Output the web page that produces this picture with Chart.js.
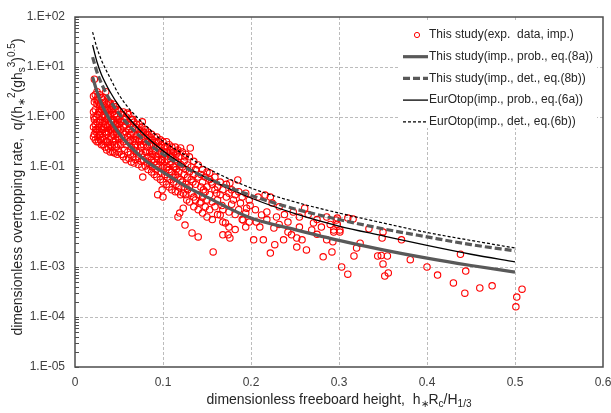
<!DOCTYPE html>
<html>
<head>
<meta charset="utf-8">
<script src="https://cdn.jsdelivr.net/npm/chart.js@4/dist/chart.umd.min.js"></script>
<style>
  html, body { margin: 0; padding: 0; background: #fff; }
  #wrap { width: 611px; height: 413px; }
</style>
</head>
<body>
<div id="wrap"><canvas id="chart" width="611" height="413"></canvas></div>
<script>
/* ===== Overtopping rate vs freeboard ===== */

// axis ticks
const xTickValues = [0, 0.1, 0.2, 0.3, 0.4, 0.5, 0.6];
const xTickLabels = ['0', '0.1', '0.2', '0.3', '0.4', '0.5', '0.6'];
const yDecades = [1e-5, 1e-4, 1e-3, 1e-2, 1e-1, 1e0, 1e1, 1e2];
const yTickLabels = ['1.E-05', '1.E-04', '1.E-03', '1.E-02', '1.E-01', '1.E+00', '1.E+01', '1.E+02'];

// legend entries
const legendLabels = [
  'This study(exp.  data, imp.)',
  'This study(imp., prob., eq.(8a))',
  'This study(imp., det., eq.(8b))',
  'EurOtop(imp., prob., eq.(6a))',
  'EurOtop(imp., det., eq.(6b))'
];

// axis titles: [text, 0 normal / 1 superscript / -1 subscript]
const yTitleParts = [['dimensionless overtopping rate,  q/(h', 0], ['\u2217', -1], ['2', 1], ['(gh', 0], ['s', -1], ['3', 1], [')', 0], ['0.5', 1], [')', 0]];
const xTitleParts = [['dimensionless freeboard height,  h', 0], ['\u2217', -1], ['R', 0], ['c', -1], ['/H', 0], ['1/3', -1]];

// formula curves
const lineX    = [0.02, 0.025, 0.03, 0.04, 0.05, 0.06, 0.08, 0.1, 0.125, 0.15, 0.2, 0.25, 0.3, 0.35, 0.4, 0.45, 0.5];
const eq8aProb = [6.3, 3.2, 1.86, 0.85, 0.47, 0.29, 0.135, 0.079, 0.042, 0.025, 0.0095, 0.0056, 0.0034, 0.0022, 0.0015, 0.00107, 0.00079];
const eq8bDet  = [15.8, 7.9, 4.7, 2.14, 1.17, 0.72, 0.33, 0.18, 0.098, 0.06, 0.027, 0.0145, 0.0089, 0.0058, 0.004, 0.0028, 0.0021];
const eq6aProb = [27.5, 12.6, 7.1, 3.16, 1.66, 1.0, 0.42, 0.21, 0.105, 0.06, 0.024, 0.0117, 0.0066, 0.0042, 0.0027, 0.0018, 0.00126];
const eq6bDet  = [50, 24, 13.8, 6.0, 2.8, 1.58, 0.68, 0.33, 0.174, 0.095, 0.038, 0.02, 0.012, 0.0076, 0.0049, 0.0034, 0.0024];

// experimental data [x, y]
const expPoints = [
  [0.021,2.6],[0.021,1.26],[0.021,0.63],[0.021,0.4],[0.0215,1.0],
  [0.022,5.7],[0.022,2.0],[0.022,0.89],[0.022,0.45],
  [0.023,2.8],[0.023,1.4],[0.023,0.71],[0.023,0.35],[0.0235,0.56],
  [0.024,2.2],[0.024,1.0],[0.024,0.5],
  [0.025,3.2],[0.025,1.8],[0.025,0.79],[0.025,0.56],[0.025,0.32],[0.0255,2.2],
  [0.026,2.5],[0.026,1.12],[0.026,0.4],
  [0.027,2.0],[0.027,1.26],[0.027,0.63],[0.027,0.32],[0.0275,0.5],
  [0.028,2.8],[0.028,1.6],[0.028,0.79],[0.028,0.45],
  [0.029,1.8],[0.029,0.89],[0.029,0.35],[0.0295,1.26],
  [0.030,2.4],[0.030,1.4],[0.030,0.56],[0.030,0.28],
  [0.031,1.6],[0.031,0.79],[0.031,0.4],[0.0315,2.5],
  [0.032,2.2],[0.032,1.12],[0.032,0.56],[0.032,0.28],
  [0.033,1.4],[0.033,0.63],[0.033,0.35],[0.0335,0.8],
  [0.034,2.0],[0.034,1.0],[0.034,0.5],[0.034,0.25],
  [0.035,3.2],[0.035,1.26],[0.035,0.71],[0.035,0.32],[0.0355,0.5],
  [0.036,1.8],[0.036,0.89],[0.036,0.45],[0.036,0.22],
  [0.037,1.4],[0.037,0.63],[0.037,0.32],[0.0375,1.1],
  [0.038,2.0],[0.038,1.0],[0.038,0.5],[0.038,0.24],
  [0.039,1.26],[0.039,0.71],[0.039,0.35],[0.0395,1.8],
  [0.040,1.9],[0.040,1.12],[0.040,0.56],[0.040,0.28],[0.040,0.2],
  [0.041,1.4],[0.041,0.79],[0.041,0.4],[0.0415,0.6],
  [0.042,1.6],[0.042,0.89],[0.042,0.5],[0.042,0.25],
  [0.043,1.26],[0.043,0.63],[0.043,0.32],[0.043,0.2],[0.0435,0.9],
  [0.044,1.8],[0.044,0.79],[0.044,0.45],
  [0.045,1.12],[0.045,0.56],[0.045,0.28],[0.045,0.19],[0.0455,1.4],
  [0.046,1.6],[0.046,0.71],[0.046,0.35],
  [0.047,1.0],[0.047,0.5],[0.047,0.25],[0.0475,0.7],
  [0.048,1.4],[0.048,0.79],[0.048,0.4],[0.048,0.18],
  [0.049,0.89],[0.049,0.56],[0.049,0.28],[0.0495,0.4],
  [0.050,1.32],[0.050,0.71],[0.050,0.35],[0.050,0.2],
  [0.0515,0.8],[0.052,1.12],[0.052,0.56],[0.052,0.28],
  [0.053,0.79],[0.053,0.4],[0.053,0.18],[0.0545,0.5],
  [0.055,1.26],[0.055,0.63],[0.055,0.32],[0.055,0.16],
  [0.056,0.89],[0.056,0.45],[0.056,0.22],[0.0575,0.7],
  [0.058,1.0],[0.058,0.5],[0.058,0.28],[0.058,0.14],[0.0595,1.2],
  [0.060,0.79],[0.060,0.4],[0.060,0.2],
  [0.061,1.12],[0.061,0.56],[0.061,0.32],[0.061,0.15],[0.0625,0.45],
  [0.063,0.71],[0.063,0.35],[0.063,0.18],
  [0.064,0.89],[0.064,0.5],[0.064,0.25],[0.064,0.126],[0.0655,0.9],
  [0.066,0.63],[0.066,0.32],[0.066,0.16],
  [0.067,0.79],[0.067,0.45],[0.067,0.22],[0.067,0.12],[0.0685,0.35],
  [0.069,0.63],[0.069,0.28],[0.069,0.14],
  [0.070,0.71],[0.070,0.4],[0.070,0.2],[0.0715,0.45],
  [0.072,0.56],[0.072,0.32],[0.072,0.16],[0.072,0.112],
  [0.073,0.71],[0.073,0.35],[0.073,0.2],[0.0745,0.28],
  [0.075,0.5],[0.075,0.25],[0.075,0.13],
  [0.076,0.63],[0.076,0.35],[0.076,0.18],[0.076,0.1],[0.0765,0.8],
  [0.077,0.063],
  [0.078,0.5],[0.078,0.28],[0.078,0.14],[0.0795,0.4],
  [0.080,0.56],[0.080,0.32],[0.080,0.2],[0.080,0.105],[0.0815,0.2],
  [0.082,0.45],[0.082,0.25],[0.082,0.126],
  [0.083,0.5],[0.083,0.32],[0.083,0.16],[0.083,0.089],[0.0845,0.28],
  [0.085,0.4],[0.085,0.2],[0.085,0.112],[0.0865,0.16],
  [0.087,0.45],[0.087,0.28],[0.087,0.14],[0.087,0.079],
  [0.088,0.35],[0.088,0.18],[0.088,0.1],[0.0895,0.28],
  [0.090,0.4],[0.090,0.22],[0.090,0.126],[0.090,0.071],[0.0915,0.2],
  [0.092,0.32],[0.092,0.16],[0.092,0.089],
  [0.093,0.4],[0.093,0.25],[0.093,0.112],[0.093,0.063],
  [0.094,0.028],[0.0945,0.14],
  [0.095,0.32],[0.095,0.18],[0.095,0.1],[0.0965,0.25],
  [0.097,0.35],[0.097,0.2],[0.097,0.126],[0.097,0.056],
  [0.098,0.28],[0.098,0.14],[0.098,0.079],
  [0.099,0.035],[0.0995,0.14],
  [0.100,0.32],[0.100,0.18],[0.100,0.1],[0.100,0.05],[0.100,0.025],[0.1015,0.2],
  [0.102,0.25],[0.102,0.126],[0.102,0.071],
  [0.104,0.32],[0.104,0.2],[0.104,0.1],[0.104,0.045],
  [0.105,0.25],[0.105,0.14],[0.105,0.063],[0.1055,0.1],
  [0.107,0.28],[0.107,0.18],[0.107,0.089],[0.107,0.04],
  [0.108,0.22],[0.108,0.112],[0.108,0.056],[0.1085,0.16],
  [0.110,0.25],[0.110,0.16],[0.110,0.079],[0.110,0.035],[0.1115,0.063],
  [0.112,0.2],[0.112,0.1],[0.112,0.05],[0.1135,0.1],
  [0.114,0.25],[0.114,0.14],[0.114,0.071],[0.114,0.032],
  [0.115,0.18],[0.115,0.089],[0.115,0.045],[0.1165,0.2],
  [0.117,0.22],[0.117,0.126],[0.117,0.063],[0.117,0.032],[0.117,0.01],
  [0.118,0.16],[0.118,0.079],[0.118,0.04],
  [0.119,0.012],
  [0.120,0.24],[0.120,0.112],[0.120,0.056],[0.120,0.028],
  [0.122,0.2],[0.122,0.1],[0.122,0.05],
  [0.123,0.030],[0.123,0.015],
  [0.124,0.13],[0.124,0.071],[0.124,0.04],
  [0.125,0.16],[0.125,0.0069],
  [0.126,0.18],[0.126,0.089],[0.126,0.045],[0.126,0.028],
  [0.127,0.022],
  [0.128,0.11],[0.128,0.063],[0.128,0.035],
  [0.130,0.16],[0.130,0.079],[0.130,0.04],[0.130,0.02],
  [0.131,0.24],
  [0.132,0.1],[0.132,0.056],[0.132,0.03],
  [0.133,0.0048],[0.134,0.05],
  [0.135,0.13],[0.135,0.071],[0.135,0.025],[0.135,0.016],
  [0.137,0.089],[0.137,0.045],[0.137,0.022],
  [0.140,0.11],[0.140,0.063],[0.140,0.028],[0.140,0.014],[0.140,0.004],
  [0.142,0.019],
  [0.143,0.071],[0.143,0.04],[0.143,0.02],
  [0.145,0.089],[0.145,0.05],[0.145,0.025],[0.145,0.012],
  [0.146,0.035],
  [0.148,0.063],[0.148,0.032],[0.148,0.016],
  [0.150,0.079],[0.150,0.04],[0.150,0.022],[0.150,0.01],
  [0.153,0.076],[0.153,0.056],[0.153,0.028],[0.153,0.014],
  [0.155,0.05],
  [0.156,0.045],[0.156,0.02],[0.156,0.0089],
  [0.157,0.002],
  [0.159,0.063],[0.159,0.035],[0.159,0.016],
  [0.161,0.03],
  [0.162,0.04],[0.162,0.022],[0.162,0.0112],
  [0.165,0.05],[0.165,0.028],[0.165,0.011],
  [0.167,0.017],[0.168,0.035],[0.168,0.014],[0.168,0.0079],[0.168,0.0044],
  [0.171,0.0076],
  [0.172,0.045],[0.172,0.025],
  [0.174,0.0044],
  [0.175,0.03],[0.175,0.0126],[0.175,0.0063],
  [0.176,0.048],[0.176,0.0038],
  [0.178,0.035],[0.178,0.018],
  [0.180,0.022],
  [0.182,0.028],[0.182,0.0112],[0.182,0.0056],
  [0.185,0.055],
  [0.186,0.032],[0.186,0.014],
  [0.188,0.019],
  [0.190,0.025],[0.190,0.0089],
  [0.191,0.0087],
  [0.194,0.03],[0.194,0.012],[0.194,0.0063],
  [0.195,0.015],
  [0.198,0.022],[0.198,0.0079],
  [0.199,0.017],
  [0.203,0.0035],[0.205,0.014],[0.206,0.0079],[0.208,0.025],[0.210,0.0063],
  [0.212,0.011],[0.214,0.0035],[0.216,0.0275],[0.218,0.0089],[0.218,0.0126],
  [0.222,0.025],[0.222,0.0019],[0.224,0.019],[0.226,0.006],[0.227,0.0028],
  [0.229,0.01],[0.232,0.016],[0.232,0.0071],[0.237,0.0035],[0.238,0.0112],
  [0.242,0.0079],[0.242,0.005],[0.246,0.0044],[0.248,0.0126],[0.252,0.0038],
  [0.252,0.0025],[0.255,0.01],[0.255,0.0063],[0.258,0.0035],[0.261,0.015],
  [0.263,0.0022],[0.265,0.0112],[0.269,0.0055],[0.271,0.0076],[0.275,0.0089],
  [0.275,0.0045],[0.280,0.0063],[0.282,0.0016],[0.286,0.01],[0.286,0.0035],
  [0.290,0.0071],[0.292,0.002],[0.293,0.0032],[0.294,0.0055],[0.294,0.005],
  [0.297,0.0087],[0.298,0.0095],[0.298,0.0072],[0.301,0.0055],[0.301,0.005],
  [0.303,0.001],[0.310,0.0095],[0.310,0.00072],[0.316,0.0091],[0.317,0.00166],
  [0.320,0.0024],[0.324,0.003],[0.334,0.0058],[0.344,0.00166],[0.348,0.0017],
  [0.349,0.0038],[0.350,0.005],[0.350,0.00115],[0.352,0.00066],[0.355,0.00166],
  [0.356,0.00076],[0.371,0.0035],[0.381,0.0014],[0.400,0.001],[0.412,0.00069],
  [0.430,0.00048],[0.438,0.0018],[0.443,0.0003],[0.444,0.00083],[0.460,0.00038],
  [0.474,0.00042],[0.501,0.00016],[0.502,0.00025],[0.508,0.00036]
];

const FONT = '"Liberation Sans", Arial, sans-serif';
Chart.defaults.font.family = FONT;

function curve(ys) {
  return lineX.map((x, i) => ({ x: x, y: ys[i] }));
}

function formatTick(value) {
  const i = yDecades.findIndex(d => Math.abs(Math.log10(d) - Math.log10(value)) < 1e-6);
  return i >= 0 ? yTickLabels[i] : '';
}

function drawRich(ctx, parts, cx, cy, size, rotate) {
  const small = Math.round(size * 0.68);
  ctx.save();
  ctx.translate(cx, cy);
  if (rotate) ctx.rotate(-Math.PI / 2);
  let w = 0;
  parts.forEach(([t, m]) => {
    ctx.font = (m ? small : size) + 'px ' + FONT;
    w += ctx.measureText(t).width;
  });
  let x = -w / 2;
  ctx.fillStyle = '#262626';
  ctx.textAlign = 'left';
  ctx.textBaseline = 'middle';
  parts.forEach(([t, m]) => {
    ctx.font = (m ? small : size) + 'px ' + FONT;
    const dy = m === 1 ? -size * 0.38 : (m === -1 ? size * 0.32 : 0);
    ctx.fillText(t, x, dy);
    x += ctx.measureText(t).width;
  });
  ctx.restore();
}

const framePlugin = {
  id: 'frame',
  beforeDatasetsDraw(chart) {
    const { ctx, chartArea: a, scales: { x, y } } = chart;
    ctx.save();
    ctx.strokeStyle = '#bcbcbc';
    ctx.lineWidth = 1;
    ctx.setLineDash([3, 2]);
    xTickValues.slice(1, -1).forEach(v => {
      const px = Math.round(x.getPixelForValue(v)) + 0.5;
      ctx.beginPath(); ctx.moveTo(px, a.top); ctx.lineTo(px, a.bottom); ctx.stroke();
    });
    yDecades.slice(1, -1).forEach(v => {
      const py = Math.round(y.getPixelForValue(v)) + 0.5;
      ctx.beginPath(); ctx.moveTo(a.left, py); ctx.lineTo(a.right, py); ctx.stroke();
    });
    ctx.restore();
  },
  afterDatasetsDraw(chart) {
    const { ctx, chartArea: a, scales: { y } } = chart;
    ctx.save();
    // minor ticks on the log axis, pointing inward
    ctx.strokeStyle = '#4d4d4d';
    ctx.lineWidth = 1;
    y.ticks.forEach(t => {
      const py = Math.round(y.getPixelForValue(t.value)) + 0.5;
      ctx.beginPath(); ctx.moveTo(a.left, py); ctx.lineTo(a.left + 4, py); ctx.stroke();
    });
    // plot frame
    ctx.strokeStyle = '#4d4d4d';
    ctx.lineWidth = 1.5;
    ctx.strokeRect(a.left, a.top, a.right - a.left, a.bottom - a.top);

    // legend
    ctx.fillStyle = '#ffffff';
    ctx.fillRect(399, 22, 198, 106);
    const ds = chart.data.datasets;
    ctx.font = '12px ' + FONT;
    ctx.textBaseline = 'middle';
    ctx.textAlign = 'left';
    legendLabels.forEach((label, i) => {
      const ry = 35 + i * 21.7;
      const d = ds[i];
      if (i === 0) {
        ctx.strokeStyle = d.pointBorderColor;
        ctx.lineWidth = 1;
        ctx.beginPath(); ctx.arc(417, ry, 2.6, 0, Math.PI * 2); ctx.stroke();
      } else {
        ctx.strokeStyle = d.borderColor;
        ctx.lineWidth = d.borderWidth;
        ctx.setLineDash(d.borderDash || []);
        ctx.beginPath(); ctx.moveTo(403, ry); ctx.lineTo(428, ry); ctx.stroke();
        ctx.setLineDash([]);
      }
      ctx.fillStyle = '#262626';
      ctx.fillText(label, 429, ry);
    });
    ctx.restore();
  },
  afterDraw(chart) {
    const { ctx, chartArea: a } = chart;
    drawRich(ctx, yTitleParts, 18, 187, 14, true);
    drawRich(ctx, xTitleParts, (a.left + a.right) / 2, 400, 14, false);
  }
};

new Chart(document.getElementById('chart'), {
  type: 'scatter',
  data: {
    datasets: [
      {
        label: legendLabels[0],
        data: expPoints.map(p => ({ x: p[0], y: p[1] })),
        showLine: false,
        pointRadius: 3.2,
        pointBorderWidth: 1.1,
        pointBorderColor: '#ff0000',
        pointBackgroundColor: 'rgba(0,0,0,0)',
        order: 5
      },
      {
        label: legendLabels[1], data: curve(eq8aProb), showLine: true, pointRadius: 0,
        borderColor: '#595959', borderWidth: 3.2, cubicInterpolationMode: 'monotone', order: 1
      },
      {
        label: legendLabels[2], data: curve(eq8bDet), showLine: true, pointRadius: 0,
        borderColor: '#595959', borderWidth: 3.2, borderDash: [7, 3], cubicInterpolationMode: 'monotone', order: 2
      },
      {
        label: legendLabels[3], data: curve(eq6aProb), showLine: true, pointRadius: 0,
        borderColor: '#000000', borderWidth: 1.3, cubicInterpolationMode: 'monotone', order: 3
      },
      {
        label: legendLabels[4], data: curve(eq6bDet), showLine: true, pointRadius: 0,
        borderColor: '#000000', borderWidth: 1.2, borderDash: [3, 2], cubicInterpolationMode: 'monotone', order: 4
      }
    ]
  },
  options: {
    responsive: false,
    animation: false,
    devicePixelRatio: 1,
    events: [],
    layout: { padding: { left: 0, top: 17, right: 8, bottom: 0 } },
    plugins: { legend: { display: false }, tooltip: { enabled: false } },
    scales: {
      x: {
        type: 'linear',
        min: 0, max: 0.6,
        afterFit: s => { s.height = 46; s.paddingLeft = 0; s.paddingRight = 0; },
        afterBuildTicks: s => { s.ticks = xTickValues.map(v => ({ value: v })); },
        grid: { display: false, drawTicks: false },
        border: { display: false },
        ticks: {
          autoSkip: false, maxRotation: 0, padding: 8,
          color: '#404040', font: { size: 12 },
          callback: (v, i) => xTickLabels[i]
        }
      },
      y: {
        type: 'logarithmic',
        min: 1e-5, max: 1e2,
        afterFit: s => { s.width = 75; s.paddingTop = 0; s.paddingBottom = 0; },
        afterBuildTicks: s => {
          const t = [];
          yDecades.forEach((d, i) => {
            t.push({ value: d, major: true });
            if (i < yDecades.length - 1) for (let k = 2; k <= 9; k++) t.push({ value: k * d });
          });
          s.ticks = t;
        },
        grid: { display: false, drawTicks: false },
        border: { display: false },
        ticks: {
          autoSkip: false, padding: 10,
          color: '#404040', font: { size: 12 },
          callback: v => formatTick(v)
        }
      }
    }
  },
  plugins: [framePlugin]
});
</script>
</body>
</html>
